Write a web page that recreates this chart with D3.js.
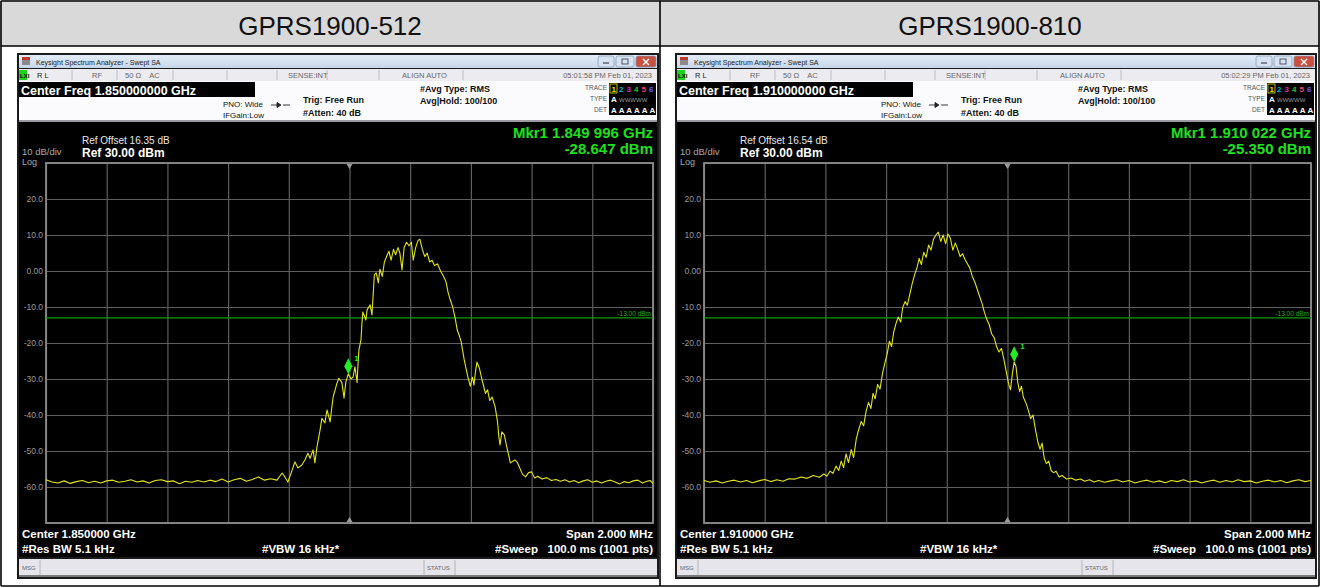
<!DOCTYPE html>
<html>
<head>
<meta charset="utf-8">
<script src="https://cdn.jsdelivr.net/npm/d3@7/dist/d3.min.js"></script>
<style>
  body { margin: 0; background: #fff; }
  svg text { font-family: "Liberation Sans", Arial, sans-serif; }
</style>
</head>
<body>
<svg id="chart" width="1320" height="587"></svg>
<script>
// ---- data ----
const titles = ['GPRS1900-512', 'GPRS1900-810'];
const centerFreqs = ['1.850000000', '1.910000000'];
const centerShort = ['1.850000', '1.910000'];
const refOffsets = ['16.35', '16.54'];
const timestamps = ['05:01:58 PM Feb 01, 2023', '05:02:29 PM Feb 01, 2023'];
const markerKHz = [-4, 22];
const markerFreqText = ['1.849 996', '1.910 022'];
const markerDbm = [-28.647, -25.350];
const yTicks = [20, 10, 0, -10, -20, -30, -40, -50, -60];
const yTickLabels = ['20.0', '10.0', '0.00', '-10.0', '-20.0', '-30.0', '-40.0', '-50.0', '-60.0'];
const limitDbm = -13;
const traceColors = ['#e6e600', '#00b8d0', '#d030d0', '#30c030', '#ff4070', '#6a5cff'];

// trace points: [offset from center in kHz, level in dBm]
const trace512 = [
  [-1000, -58.0], [-980, -58.6], [-960, -58.9], [-940, -58.3], [-920, -59.0], [-900, -58.5],
  [-880, -58.2], [-860, -58.8], [-840, -58.4], [-820, -58.9], [-800, -58.3], [-780, -58.1],
  [-760, -58.7], [-740, -58.4], [-720, -58.0], [-700, -58.6], [-680, -58.3], [-660, -58.9],
  [-640, -58.2], [-620, -58.0], [-600, -58.5], [-580, -58.3], [-560, -59.1], [-540, -58.4],
  [-520, -58.7], [-500, -58.2], [-480, -58.6], [-460, -58.1], [-440, -58.5], [-420, -57.8],
  [-400, -58.6], [-380, -58.0], [-360, -57.6], [-340, -58.4], [-320, -57.9], [-300, -57.2],
  [-280, -58.1], [-260, -57.7], [-239, -58.1], [-222, -56.1], [-213, -57.2], [-203, -58.6],
  [-189, -55.3], [-180, -53.0], [-170, -54.7], [-157, -53.9], [-147, -52.5], [-137, -50.6],
  [-130, -52.0], [-120, -49.7], [-114, -53.3], [-107, -48.8], [-97, -44.2], [-91, -40.9],
  [-81, -42.2], [-74, -38.6], [-64, -41.9], [-54, -35.0], [-41, -31.1], [-35, -29.8],
  [-25, -31.0], [-18, -35.3], [-12, -30.8], [-4, -28.6], [5, -30.0], [12, -29.4],
  [18, -26.6], [25, -31.0], [28, -26.0], [31, -22.0], [38, -19.0], [41, -14.5],
  [44, -11.4], [54, -13.6], [58, -10.8], [68, -9.4], [74, -12.2], [77, -8.0],
  [82, -1.0], [88, -0.5], [95, -3.3], [100, 0.5], [108, -1.5], [115, 2.5],
  [122, 4.0], [130, 5.5], [137, 3.0], [145, 6.0], [152, 4.5], [160, 6.5],
  [166, 5.0], [173, 0.3], [180, 6.5], [188, 8.0], [196, 7.0], [204, 8.0],
  [210, 3.0], [218, 6.5], [226, 8.5], [232, 8.8], [240, 6.0], [248, 4.0],
  [256, 5.0], [264, 2.5], [272, 3.0], [280, 1.5], [290, 2.0], [300, 0.0],
  [310, -1.5], [318, -3.0], [325, -6.0], [332, -8.0], [340, -10.0], [348, -13.0],
  [355, -16.4], [362, -18.0], [368, -19.7], [378, -24.7], [390, -29.4], [398, -32.0],
  [405, -29.5], [410, -31.7], [415, -28.0], [420, -25.3], [428, -27.0], [436, -30.0],
  [448, -34.0], [455, -33.0], [462, -36.0], [470, -35.0], [480, -37.8], [488, -42.0],
  [492, -46.0], [496, -48.3], [502, -44.7], [510, -45.5], [518, -48.8], [530, -53.3],
  [545, -52.5], [552, -53.0], [560, -54.5], [570, -56.5], [580, -57.2], [590, -56.0],
  [600, -55.8], [610, -57.5], [620, -57.0], [635, -57.8], [650, -57.4], [665, -58.2],
  [680, -57.9], [695, -58.4], [710, -58.0], [725, -58.6], [740, -58.2], [755, -58.8],
  [770, -58.3], [785, -58.0], [800, -58.7], [815, -58.3], [830, -58.9], [845, -58.4],
  [860, -58.1], [875, -58.6], [890, -59.2], [905, -58.5], [920, -58.8], [935, -58.3],
  [950, -58.1], [965, -58.9], [980, -58.4], [990, -58.2], [1000, -59.0]
];

const trace810 = [
  [-1000, -58.2], [-980, -58.7], [-960, -58.3], [-940, -58.9], [-920, -58.4], [-900, -58.1],
  [-880, -58.6], [-860, -58.2], [-840, -58.8], [-820, -58.3], [-800, -57.9], [-780, -58.5],
  [-760, -58.0], [-740, -58.4], [-720, -57.7], [-700, -57.8], [-680, -57.2], [-660, -57.6],
  [-640, -56.8], [-620, -57.3], [-605, -56.4], [-595, -57.0], [-585, -55.6], [-575, -56.2],
  [-565, -54.2], [-556, -55.4], [-548, -52.8], [-540, -54.6], [-532, -50.8], [-524, -53.2],
  [-515, -49.6], [-507, -51.8], [-498, -46.5], [-490, -44.0], [-482, -41.8], [-474, -43.0],
  [-466, -39.0], [-458, -36.5], [-450, -38.2], [-443, -34.0], [-436, -35.5], [-428, -31.5],
  [-420, -32.8], [-412, -28.5], [-404, -25.5], [-396, -22.8], [-389, -19.5], [-382, -21.0],
  [-375, -17.0], [-367, -14.5], [-360, -12.8], [-352, -14.2], [-345, -10.0], [-337, -8.5],
  [-330, -9.5], [-322, -6.5], [-314, -3.5], [-306, -1.0], [-298, 1.0], [-291, 3.5],
  [-284, 1.8], [-276, 5.2], [-268, 3.8], [-260, 7.2], [-252, 5.8], [-244, 8.8],
  [-236, 10.0], [-228, 10.8], [-220, 8.2], [-212, 10.0], [-204, 7.6], [-196, 10.3],
  [-188, 9.0], [-180, 5.8], [-172, 7.8], [-164, 6.0], [-156, 4.0], [-148, 4.8],
  [-140, 3.2], [-132, 2.0], [-124, 0.8], [-116, -1.5], [-108, -3.0], [-100, -5.0],
  [-92, -7.0], [-84, -9.0], [-76, -11.5], [-68, -13.5], [-60, -15.0], [-52, -17.5],
  [-44, -18.5], [-36, -21.0], [-28, -22.5], [-20, -21.5], [-12, -24.5], [-4, -28.0],
  [4, -31.5], [10, -33.0], [16, -28.5], [22, -25.3], [28, -26.5], [34, -31.0],
  [40, -33.5], [46, -32.0], [52, -35.0], [60, -36.5], [68, -38.5], [76, -41.0],
  [84, -40.0], [92, -44.0], [100, -47.5], [107, -49.5], [114, -47.8], [121, -52.0],
  [128, -53.5], [136, -52.8], [144, -55.5], [152, -56.0], [160, -55.6], [170, -57.2],
  [180, -56.8], [195, -57.8], [210, -57.5], [225, -58.1], [240, -57.8], [255, -58.4],
  [270, -58.0], [285, -58.6], [300, -58.2], [320, -58.7], [340, -58.3], [360, -58.0],
  [380, -58.6], [400, -58.2], [420, -58.9], [440, -58.4], [460, -58.1], [480, -58.7],
  [500, -58.3], [520, -58.8], [540, -58.2], [560, -58.5], [580, -58.0], [600, -58.6],
  [620, -58.3], [640, -58.9], [660, -58.4], [680, -58.1], [700, -58.7], [720, -58.2],
  [740, -58.6], [760, -58.0], [780, -58.5], [800, -58.3], [820, -58.9], [840, -58.4],
  [860, -58.1], [880, -58.6], [900, -58.2], [920, -58.8], [940, -58.3], [960, -58.0],
  [980, -58.5], [1000, -58.2]
];
const traces = [trace512, trace810];

const W = 1320, H = 587;
const svg = d3.select('#chart');

// ---- outer table ----
svg.append('rect').attr('x', 0).attr('y', 0).attr('width', W).attr('height', 46).attr('fill', '#d9d9d9');
const tableLines = [[1, 1, W - 1, 1], [1, 46, W - 1, 46], [1, H - 1, W - 1, H - 1], [1, 1, 1, H - 1], [W - 1, 1, W - 1, H - 1], [660, 1, 660, H - 1]];
svg.append('g').selectAll('line').data(tableLines).enter().append('line')
  .attr('x1', d => d[0]).attr('y1', d => d[1]).attr('x2', d => d[2]).attr('y2', d => d[3])
  .attr('stroke', '#000').attr('stroke-width', 1.6);
svg.append('g').selectAll('text').data(titles).enter().append('text')
  .attr('x', (d, i) => 330 + i * 660).attr('y', 35).attr('text-anchor', 'middle')
  .attr('font-size', 26).attr('fill', '#111').text(d => d);

// title bar gradient
const defs = svg.append('defs');
const tb = defs.append('linearGradient').attr('id', 'titlebar').attr('x1', 0).attr('x2', 0).attr('y1', 0).attr('y2', 1);
tb.append('stop').attr('offset', '0%').attr('stop-color', '#e4edf8');
tb.append('stop').attr('offset', '100%').attr('stop-color', '#c6d6ea');

function drawPanel(i, dx) {
  const g = svg.append('g').attr('transform', `translate(${dx},0)`);
  const x = d3.scaleLinear().domain([-1000, 1000]).range([46, 653]);
  const y = d3.scaleLinear().domain([-70, 30]).range([523, 163]);

  // window frame
  g.append('rect').attr('x', 17).attr('y', 53).attr('width', 642).attr('height', 526).attr('fill', '#1a1a1a');
  g.append('rect').attr('x', 19).attr('y', 55).attr('width', 638).attr('height', 13).attr('fill', 'url(#titlebar)');
  g.append('rect').attr('x', 22).attr('y', 57).attr('width', 8).attr('height', 8).attr('fill', '#8a8a8a');
  g.append('rect').attr('x', 22).attr('y', 57).attr('width', 8).attr('height', 3).attr('fill', '#c0392b');
  g.append('text').attr('x', 36).attr('y', 64.5).attr('font-size', 7).attr('fill', '#222')
    .text('Keysight Spectrum Analyzer - Swept SA');
  // window buttons
  const btns = [[598, 16, '#d7e3f2'], [616, 18, '#d7e3f2'], [636, 20, '#c9503f']];
  g.append('g').selectAll('rect').data(btns).enter().append('rect')
    .attr('x', d => d[0]).attr('y', 56).attr('width', d => d[1]).attr('height', 11).attr('rx', 2)
    .attr('fill', d => d[2]).attr('stroke', '#7f95b0').attr('stroke-width', 0.7);
  g.append('line').attr('x1', 603).attr('x2', 609).attr('y1', 63).attr('y2', 63).attr('stroke', '#445').attr('stroke-width', 1.2);
  g.append('rect').attr('x', 622).attr('y', 59).attr('width', 6).attr('height', 5).attr('fill', 'none').attr('stroke', '#445').attr('stroke-width', 0.9);
  g.append('path').attr('d', 'M643,59 L649,65 M649,59 L643,65').attr('stroke', '#fff').attr('stroke-width', 1.4);

  // status row
  g.append('rect').attr('x', 19).attr('y', 69).attr('width', 638).attr('height', 12).attr('fill', '#ecebf0');
  g.append('rect').attr('x', 19).attr('y', 70).attr('width', 8).attr('height', 10).attr('fill', '#1fd11f');
  g.append('text').attr('x', 20).attr('y', 78).attr('font-size', 6).attr('fill', '#000').attr('font-weight', 'bold').text('LXI');
  const seps = [72, 117, 173, 227, 277, 327, 379, 463];
  g.append('g').selectAll('line').data(seps).enter().append('line')
    .attr('x1', d => d).attr('x2', d => d).attr('y1', 70).attr('y2', 80).attr('stroke', '#b0b0b8').attr('stroke-width', 0.8);
  const statusTexts = [[37, 'R L', 'start'], [92, 'RF', 'start'], [125, '50 Ω    AC', 'start'], [288, 'SENSE:INT', 'start'], [402, 'ALIGN AUTO', 'start'], [652, timestamps[i], 'end']];
  g.append('g').selectAll('text').data(statusTexts).enter().append('text')
    .attr('x', d => d[0]).attr('y', 78).attr('font-size', 7.5).attr('fill', d => d[0] === 37 ? '#222' : '#666')
    .attr('text-anchor', d => d[2]).attr('xml:space', 'preserve').style('white-space', 'pre').text(d => d[1]);

  // settings panel
  g.append('rect').attr('x', 19).attr('y', 81).attr('width', 638).attr('height', 40).attr('fill', '#fbfbfd');
  g.append('rect').attr('x', 19).attr('y', 82).attr('width', 236).attr('height', 15).attr('fill', '#000');
  g.append('text').attr('x', 21).attr('y', 94.5).attr('font-size', 12.5).attr('font-weight', 'bold').attr('fill', '#fff')
    .text(`Center Freq ${centerFreqs[i]} GHz`);
  const info = [
    [223, 107, 'PNO: Wide', false], [223, 118, 'IFGain:Low', false],
    [303, 103, 'Trig: Free Run', true], [303, 116, '#Atten: 40 dB', true],
    [420, 92, '#Avg Type: RMS', true], [420, 104, 'Avg|Hold: 100/100', true]
  ];
  g.append('g').selectAll('text').data(info).enter().append('text')
    .attr('x', d => d[0]).attr('y', d => d[1]).attr('font-size', d => d[3] ? 9 : 8)
    .attr('font-weight', d => d[3] ? 'bold' : 'normal').attr('fill', '#111').text(d => d[2]);
  g.append('path').attr('d', 'M271,105 L278,105 M283,105 L290,105 M277,102.5 L281,105 L277,107.5 Z')
    .attr('stroke', '#222').attr('stroke-width', 0.9).attr('fill', '#222');
  // trace box
  const labs = [['TRACE', 90], ['TYPE', 101], ['DET', 112]];
  g.append('g').selectAll('text').data(labs).enter().append('text')
    .attr('x', 607).attr('y', d => d[1]).attr('text-anchor', 'end').attr('font-size', 6.5).attr('fill', '#555').text(d => d[0]);
  g.append('rect').attr('x', 609).attr('y', 83).attr('width', 47).attr('height', 32).attr('fill', '#000');
  g.append('rect').attr('x', 610).attr('y', 84).attr('width', 7).attr('height', 9).attr('fill', 'none').attr('stroke', '#e6e600').attr('stroke-width', 0.8);
  g.append('g').selectAll('text').data(traceColors).enter().append('text')
    .attr('x', (d, k) => 611.5 + k * 7.5).attr('y', 91.5).attr('font-size', 8).attr('font-weight', 'bold')
    .attr('fill', d => d).text((d, k) => k + 1);
  g.append('text').attr('x', 611).attr('y', 102).attr('font-size', 8).attr('font-weight', 'bold').attr('fill', '#fff').text('A');
  g.append('text').attr('x', 619).attr('y', 101.5).attr('font-size', 6).attr('fill', '#999').text('WWWWW');
  g.append('text').attr('x', 611).attr('y', 113).attr('font-size', 8).attr('font-weight', 'bold').attr('fill', '#fff')
    .attr('letter-spacing', 1.9).text('AAAAAA');
  g.append('rect').attr('x', 19).attr('y', 120).attr('width', 638).attr('height', 2).attr('fill', '#9a9aa0');

  // display area
  g.append('rect').attr('x', 19).attr('y', 122).attr('width', 638).attr('height', 435).attr('fill', '#000');
  g.append('text').attr('x', 82).attr('y', 144).attr('font-size', 10).attr('fill', '#e8e8e8').text(`Ref Offset ${refOffsets[i]} dB`);
  g.append('text').attr('x', 82).attr('y', 157).attr('font-size', 12).attr('font-weight', 'bold').attr('fill', '#fff').text('Ref 30.00 dBm');
  g.append('text').attr('x', 22).attr('y', 155).attr('font-size', 9.5).attr('fill', '#a8a8a8').text('10 dB/div');
  g.append('text').attr('x', 22).attr('y', 165).attr('font-size', 9).attr('fill', '#a8a8a8').text('Log');
  g.append('text').attr('x', 653).attr('y', 138).attr('text-anchor', 'end').attr('font-size', 15).attr('font-weight', 'bold')
    .attr('fill', '#1ee01e').text(`Mkr1 ${markerFreqText[i]} GHz`);
  g.append('text').attr('x', 653).attr('y', 154).attr('text-anchor', 'end').attr('font-size', 15).attr('font-weight', 'bold')
    .attr('fill', '#1ee01e').text(`${markerDbm[i].toFixed(3)} dBm`);

  // graticule
  const gx = g.append('g').attr('transform', 'translate(0,523)')
    .call(d3.axisBottom(x).tickValues(d3.range(-1000, 1001, 200)).tickSize(-360).tickFormat(''));
  const gy = g.append('g').attr('transform', 'translate(46,0)')
    .call(d3.axisLeft(y).tickValues(d3.range(-70, 31, 10)).tickSize(-607).tickFormat(''));
  [gx, gy].forEach(a => {
    a.select('.domain').remove();
    a.selectAll('line').attr('stroke', '#5e5e5e').attr('stroke-width', 1.2);
  });
  g.append('rect').attr('x', 46).attr('y', 163).attr('width', 607).attr('height', 360)
    .attr('fill', 'none').attr('stroke', '#8c8c8c').attr('stroke-width', 1.8);
  g.append('g').selectAll('text').data(yTicks).enter().append('text')
    .attr('x', 43).attr('y', d => y(d) + 3).attr('text-anchor', 'end').attr('font-size', 8.5)
    .attr('fill', '#9a9a9a').text((d, k) => yTickLabels[k]);
  // center frequency ticks
  g.append('path').attr('d', `M${x(0) - 3},164 L${x(0) + 3},164 L${x(0)},169 Z`).attr('fill', '#9a9a9a');
  g.append('path').attr('d', `M${x(0) - 3},522 L${x(0) + 3},522 L${x(0)},517 Z`).attr('fill', '#9a9a9a');

  // limit line
  g.append('line').attr('x1', 46).attr('x2', 653).attr('y1', y(limitDbm)).attr('y2', y(limitDbm))
    .attr('stroke', '#0aa00a').attr('stroke-width', 1.2);
  g.append('text').attr('x', 651).attr('y', y(limitDbm) - 2).attr('text-anchor', 'end').attr('font-size', 6.5)
    .attr('fill', '#16b016').text('-13.00 dBm');

  // trace
  const line = d3.line().x(d => x(d[0])).y(d => y(d[1]));
  g.append('path').datum(traces[i]).attr('d', line).attr('fill', 'none')
    .attr('stroke', '#e4e41a').attr('stroke-width', 1.1).attr('stroke-linejoin', 'round');

  // marker
  const mx = x(markerKHz[i]), my = y(markerDbm[i]);
  g.append('path').attr('d', `M${mx},${my} L${mx + 4},${my - 8} L${mx},${my - 16} L${mx - 4},${my - 8} Z`)
    .attr('fill', '#22ee22');
  g.append('text').attr('x', mx + 6).attr('y', my - 13).attr('font-size', 8).attr('font-weight', 'bold')
    .attr('fill', '#22ee22').text('1');

  // bottom annotations
  const bottom = [
    [22, 538, 'start', `Center ${centerShort[i]} GHz`], [22, 553, 'start', '#Res BW 5.1 kHz'],
    [262, 553, 'start', '#VBW 16 kHz*'], [653, 538, 'end', 'Span 2.000 MHz'],
    [653, 553, 'end', '#Sweep   100.0 ms (1001 pts)']
  ];
  g.append('g').selectAll('text').data(bottom).enter().append('text')
    .attr('x', d => d[0]).attr('y', d => d[1]).attr('text-anchor', d => d[2])
    .attr('font-size', 11.5).attr('font-weight', 'bold').attr('fill', '#fff')
    .attr('xml:space', 'preserve').style('white-space', 'pre').text(d => d[3]);

  // message bar
  g.append('rect').attr('x', 19).attr('y', 559).attr('width', 638).attr('height', 17).attr('fill', '#e7e5ec');
  g.append('rect').attr('x', 19).attr('y', 575).attr('width', 638).attr('height', 2).attr('fill', '#7a7a7a');
  [40, 424, 455].forEach(v => g.append('line').attr('x1', v).attr('x2', v).attr('y1', 560).attr('y2', 575)
    .attr('stroke', '#a8a8b0').attr('stroke-width', 0.8));
  g.append('text').attr('x', 22).attr('y', 570).attr('font-size', 6).attr('fill', '#666').text('MSG');
  g.append('text').attr('x', 427).attr('y', 570).attr('font-size', 6).attr('fill', '#666').text('STATUS');
}

drawPanel(0, 0);
drawPanel(1, 658);
</script>
</body>
</html>
